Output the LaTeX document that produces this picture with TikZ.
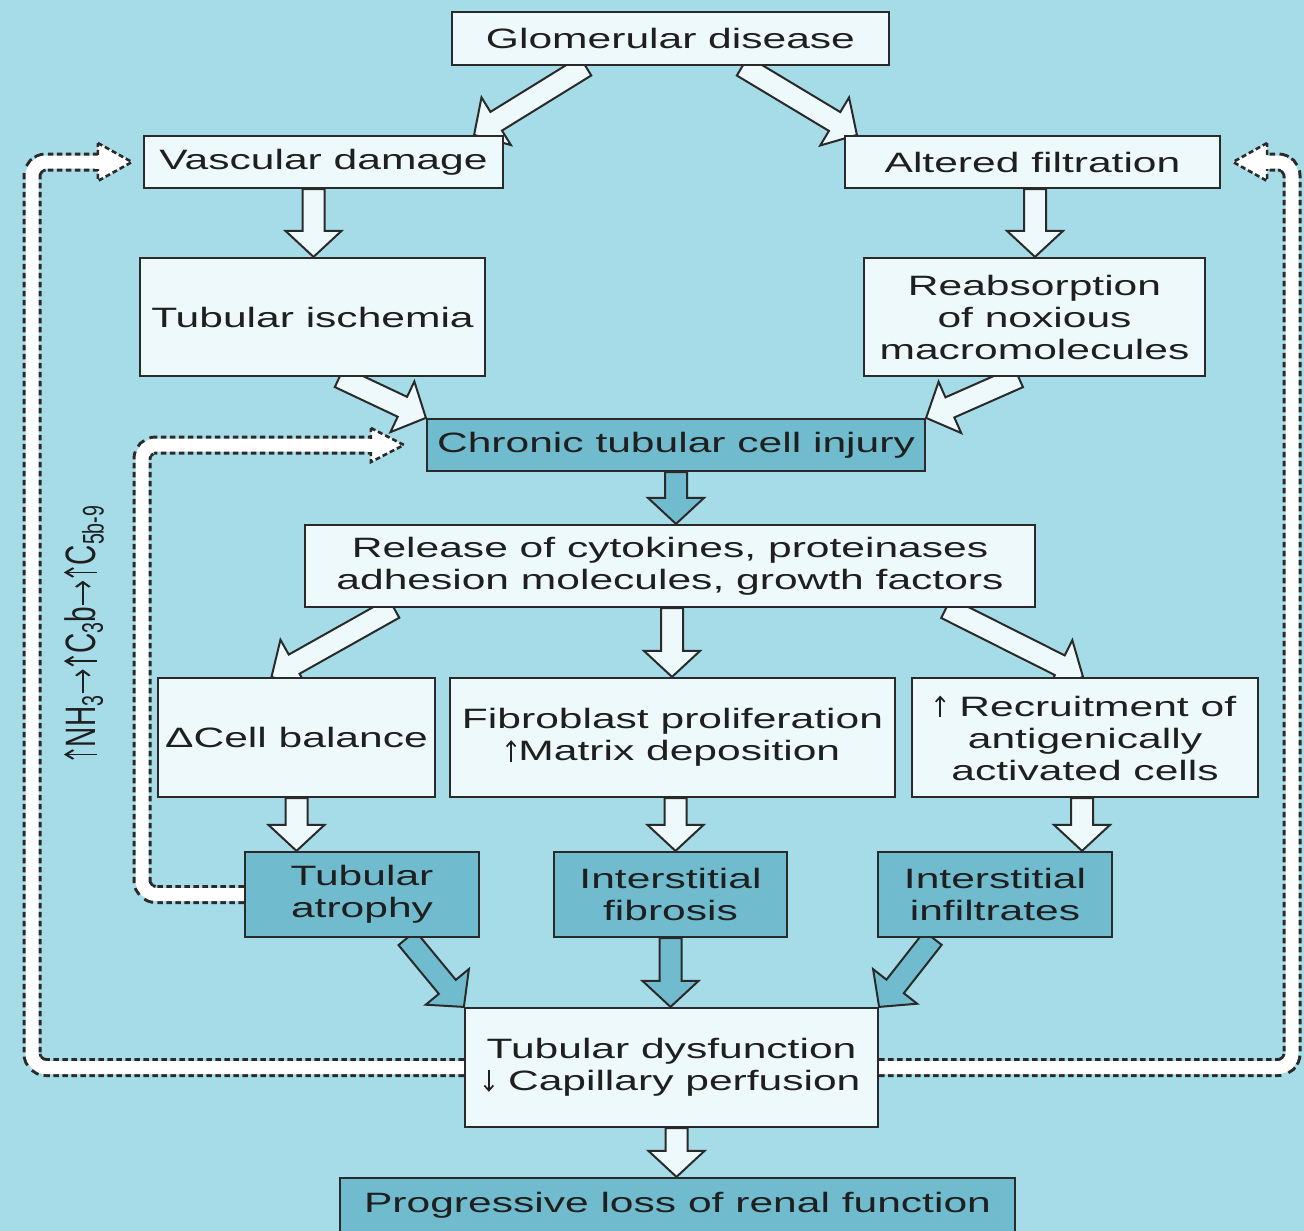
\documentclass[tikz,border=0pt]{standalone}
\usepackage{graphicx}
\usepackage{fontspec}
\setmainfont{Liberation Sans}[FakeStretch=1.52]
\newfontfamily\plainfont{Liberation Sans}
\usetikzlibrary{calc,arrows.meta}
\definecolor{bgc}{HTML}{A6DCE8}
\definecolor{lightbox}{HTML}{EEF9FB}
\definecolor{darkbox}{HTML}{70BCCE}
\definecolor{edge}{HTML}{2A2A2A}
\definecolor{ink}{HTML}{1F1F1F}
\pgfdeclarelayer{bg}
\pgfsetlayers{bg,main}
\newcommand\up{\hspace{1pt}\tikz[baseline=0pt,x=1pt,y=1pt]\draw[ink,line width=1.7pt,-{Straight Barb[length=5pt,width=9pt]}] (0,-1) -- (0,20.5);\hspace{2pt}}
\newcommand\down{\hspace{1pt}\tikz[baseline=0pt,x=1pt,y=1pt]\draw[ink,line width=1.7pt,-{Straight Barb[length=5pt,width=9pt]}] (0,20.5) -- (0,-1);\hspace{2pt}}
\newcommand\rarr{\hspace{1pt}\tikz[baseline=0pt,x=1pt,y=1pt]\draw[ink,line width=1.7pt,-{Straight Barb[length=5pt,width=9pt]}] (0,8) -- (24,8);\hspace{1pt}}
\tikzset{
  box/.style={draw=edge, line width=2.2pt, fill=lightbox, inner sep=0pt, align=center,
    font=\fontsize{28}{32}\selectfont, text=ink},
  dbox/.style={box, fill=darkbox},
  blockarrow/.style={draw=edge, line width=2pt, line join=miter},
  fbdark/.style={draw=edge, line width=19pt, dash pattern=on 5.5pt off 3.5pt, rounded corners=14pt},
  fbwhite/.style={draw=white, line width=13pt, rounded corners=14pt},
  fbhead/.style={draw=edge, line width=2.6pt, dash pattern=on 5pt off 3pt, fill=white, line join=miter},
}
\newcommand\barrow[3]{%
  \coordinate (ba) at #2;
  \coordinate (bb) at #3;
  \coordinate (bh) at ($(bb)!26pt!(ba)$);
  \draw[blockarrow, fill=#1] ($(ba)!11pt!90:(bb)$) -- ($(bh)!11pt!90:(bb)$) -- ($(bh)!28pt!90:(bb)$)
     -- (bb) -- ($(bh)!28pt!-90:(bb)$) -- ($(bh)!11pt!-90:(bb)$) -- ($(ba)!11pt!-90:(bb)$) -- cycle;}
\newcommand\varrow[3]{\barrow{#1}{#2}{(ba |- #3.north)}}
\begin{document}
\begin{tikzpicture}[x=1pt, y=-1pt]
\useasboundingbox (0,0) rectangle (1304,1231);
\begin{pgfonlayer}{bg}
  \fill[bgc] (0,0) rectangle (1304,1231);
\end{pgfonlayer}

% nodes
\node[box, minimum width=437pt, minimum height=53pt] (gd) at (670.5,38.5) {Glomerular disease};
\node[box, minimum width=359pt, minimum height=52pt] (vd) at (323.5,162) {Vascular damage};
\node[box, minimum width=375pt, minimum height=52pt] (af) at (1032.5,162) {Altered filtration};
\node[box, minimum width=345pt, minimum height=118pt] (ti) at (312.5,317) {Tubular ischemia};
\node[box, minimum width=341pt, minimum height=118pt] (ra) at (1034.5,317) {Reabsorption\\of noxious\\macromolecules};
\node[dbox, minimum width=498pt, minimum height=52pt] (ci) at (676,445) {Chronic tubular cell injury};
\node[box, minimum width=730pt, minimum height=82pt] (rl) at (670,566) {Release of cytokines, proteinases\\adhesion molecules, growth factors};
\node[box, minimum width=277pt, minimum height=119pt] (cb) at (296.5,737.5) {ΔCell balance};
\node[box, minimum width=445pt, minimum height=119pt] (fp) at (672.5,737.5) {Fibroblast proliferation\\\up Matrix deposition};
\node[box, minimum width=346pt, minimum height=119pt] (rc) at (1085,737.5) {\up{} Recruitment of\\antigenically\\activated cells};
\node[dbox, minimum width=234pt, minimum height=85pt] (ta) at (362,894.5) {Tubular\\atrophy};
\node[dbox, minimum width=233pt, minimum height=85pt] (if) at (670.5,894.5) {Interstitial\\fibrosis};
\node[dbox, minimum width=234pt, minimum height=85pt] (ii) at (995,894.5) {Interstitial\\infiltrates};
\node[box, minimum width=413pt, minimum height=119pt] (td) at (671.5,1067.5) {Tubular dysfunction\\\down{} Capillary perfusion};
\node[dbox, minimum width=675pt, minimum height=54pt] (pl) at (677.5,1205) {Progressive loss of renal function};

\node[rotate=90, anchor=base, inner sep=0pt, text=ink,
      font=\plainfont\fontsize{28}{32}\selectfont] (lbl) at (95,633)
  {\scalebox{1}[1.52]{\up NH\textsubscript{3}\rarr\up C\textsubscript{3}b\rarr\up C\textsubscript{5b-9}}};

\begin{pgfonlayer}{bg}
  % feedback loops
  \coordinate (hl) at ($(vd.west)+(-11,0)$);
  \coordinate (hr) at ($(af.east)+(12,0)$);
  \coordinate (hi) at ($(ci.west)+(-22,0)$);
  \coordinate (xl) at (32,0);
  \coordinate (xr) at (1292,0);
  \coordinate (xi) at (142,0);
  \draw[fbdark] (td.west) -- (xl |- td.west) -- (xl |- hl) -- ($(hl)+(-34,0)$);
  \draw[fbdark] (td.east) -- (xr |- td.east) -- (xr |- hr) -- ($(hr)+(34,0)$);
  \draw[fbdark] (ta.west) -- (xi |- ta.west) -- (xi |- hi) -- ($(hi)+(-33,0)$);
  \draw[fbwhite] (td.west) -- (xl |- td.west) -- (xl |- hl) -- ($(hl)+(-34,0)$);
  \draw[fbwhite] (td.east) -- (xr |- td.east) -- (xr |- hr) -- ($(hr)+(34,0)$);
  \draw[fbwhite] (ta.west) -- (xi |- ta.west) -- (xi |- hi) -- ($(hi)+(-33,0)$);
  \draw[fbhead] ($(hl)+(-34,-19)$) -- (hl) -- ($(hl)+(-34,19)$) -- cycle;
  \draw[fbhead] ($(hr)+(34,-19)$) -- (hr) -- ($(hr)+(34,19)$) -- cycle;
  \draw[fbhead] ($(hi)+(-33,-17)$) -- (hi) -- ($(hi)+(-33,17)$) -- cycle;
  \draw[fbwhite] ($(hl)+(-37,0)$) -- ($(hl)+(-30,0)$);
  \draw[fbwhite] ($(hr)+(37,0)$) -- ($(hr)+(30,0)$);
  \draw[fbwhite] ($(hi)+(-36,0)$) -- ($(hi)+(-29,0)$);

  % block arrows
  \barrow{lightbox}{($(gd.south)+(-85,0)$)}{($(vd.north east)+(-30,0)$)}
  \barrow{lightbox}{($(gd.south)+(72,0)$)}{($(af.north west)+(13,0)$)}
  \varrow{lightbox}{($(vd.south)+(-10,0)$)}{ti}
  \varrow{lightbox}{($(af.south)+(2.5,0)$)}{ra}
  \barrow{lightbox}{($(ti.south)+(27,0)$)}{(ci.north west)}
  \barrow{lightbox}{($(ra.south)+(-16,0)$)}{(ci.north east)}
  \varrow{darkbox}{(ci.south)}{rl}
  \barrow{lightbox}{($(rl.south west)+(90,0)$)}{($(cb.north)+(-25,0)$)}
  \varrow{lightbox}{($(rl.south)+(2,0)$)}{fp}
  \barrow{lightbox}{($(rl.south east)+(-90,0)$)}{($(rc.north)+(-2,0)$)}
  \varrow{lightbox}{(cb.south)}{ta}
  \varrow{lightbox}{($(fp.south)+(3,0)$)}{if}
  \varrow{lightbox}{($(rc.south)+(-3,0)$)}{ii}
  \barrow{darkbox}{($(ta.south)+(45,0)$)}{(td.north west)}
  \varrow{darkbox}{(if.south)}{td}
  \barrow{darkbox}{($(ii.south)+(-62,0)$)}{(td.north east)}
  \varrow{lightbox}{($(td.south)+(5,0)$)}{pl}
\end{pgfonlayer}
\end{tikzpicture}
\end{document}
